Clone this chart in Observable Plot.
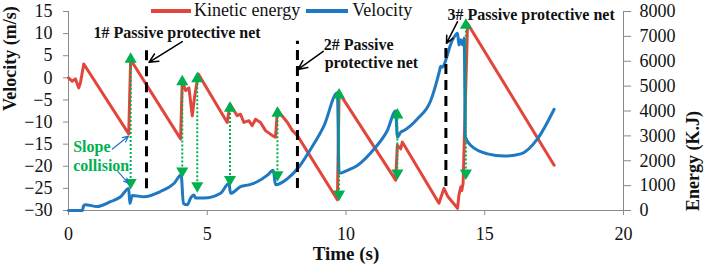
<!DOCTYPE html>
<html>
<head>
<meta charset="utf-8">
<script src="https://cdn.jsdelivr.net/npm/d3@7"></script>
<script src="https://cdn.jsdelivr.net/npm/@observablehq/plot@0.6"></script>
<style>
  body { margin: 0; background: #fff; }
  #wrap { position: relative; width: 706px; height: 269px; }
  #legend { position: absolute; left: 151px; top: 0; height: 21px; display: flex; align-items: center;
            font-family: "Liberation Serif", "Times New Roman", serif; font-size: 18px; color: #111; }
  #legend svg { display: block; }
</style>
</head>
<body>
<div id="wrap">
  <div id="chart"></div>
  <div id="legend"></div>
</div>
<script>
// ---- Data ----
// Kinetic energy (kJ) vs time (s)
const energyT  = [0, 0.13, 0.25, 0.37, 0.43, 0.55, 2.17, 2.24, 4.04, 4.10, 4.22, 4.34, 4.46, 4.54, 4.68,
                  5.72, 5.82, 6.08, 6.20, 6.32, 6.50, 6.62, 6.74, 6.92, 7.10, 7.35, 7.46, 7.53, 7.65, 7.89,
                  8.07, 8.25, 9.69, 9.75, 11.79, 11.85, 11.97, 12.03, 13.35, 13.53, 13.67, 14.02, 14.07,
                  14.14, 14.17, 14.22, 14.38, 17.50];
const energyKJ = [5330, 5200, 5290, 4930, 5130, 5890, 3080, 6060, 2880, 5240, 4820, 4930, 3810, 4540, 5490,
                  3540, 4270, 3810, 3870, 3540, 3610, 3410, 3670, 3540, 3210, 3010, 2950, 4070, 3870, 3540,
                  3210, 3010, 430, 4740, 1220, 2620, 2480, 2750, 290, 890, 560, 90, 630,
                  950, 800, 1090, 7520, 1820];
// Velocity (m/s) vs time (s)
const velocityT  = [0, 0.49, 0.55, 0.61, 1.03, 1.51, 1.88, 2.17, 2.21, 2.30, 2.72, 3.32, 3.80, 4.06, 4.14,
                    4.28, 4.40, 4.52, 4.58, 4.88, 5.48, 5.78, 5.84, 6.20, 6.50, 6.80, 7.17, 7.38, 7.46, 7.89,
                    8.31, 8.73, 9.21, 9.69, 9.75, 10.05, 10.41, 11.01, 11.49, 11.79, 11.85, 11.97, 12.09,
                    12.57, 13.05, 13.37, 13.41, 13.45, 13.84, 14.02, 14.07, 14.13, 14.21, 14.26, 14.30,
                    14.50, 15.10, 15.70, 16.30, 16.90, 17.50];
const velocityMS = [-30, -30, -28.9, -28.7, -29.1, -28.0, -26.9, -25.0, -28.4, -26.6, -26.9, -25.7, -23.9, -22.0, -28.4,
                    -28.7, -27.2, -26.5, -27.2, -27.2, -26.1, -23.9, -26.1, -24.6, -24.2, -23.5, -22.0, -20.9, -24.2, -22.8,
                    -20.1, -16.1, -10.8, -3.4, -21.6, -20.9, -19.8, -16.1, -11.9, -7.5, -13.4, -12.3, -11.9,
                    -9.3, -5.2, 1.6, 2.6, 2.4, 8.6, 10.1, 7.4, 8.6, 7.4, 9.0, -13.4,
                    -15.3, -17.2, -17.7, -17.2, -13.8, -7.1];
// Green collision arrows: time, top end, bottom end (velocity-axis units)
const collisionT      = [2.24, 4.10, 4.64, 5.82, 7.53, 9.75, 11.85, 14.32];
const collisionTop    = [5.1, 0.0, 0.7, -6.0, -7.1, -3.0, -7.5, 12.8];
const collisionBottom = [-24.6, -22.0, -25.3, -23.9, -22.8, -27.2, -22.4, -22.4];
// Passive protective nets (dashed lines)
const netT      = [2.81, 8.25, 13.60];
const netTop    = [7.2, 8.3, 7.8];
const netBottom = [-25.1, -25.0, -24.6];
// Tick values
const timeTicks     = [0, 5, 10, 15, 20];
const velocityTicks = [-30, -25, -20, -15, -10, -5, 0, 5, 10, 15];
const energyTicks   = [0, 1000, 2000, 3000, 4000, 5000, 6000, 7000, 8000];
// Annotation texts (anchored in data units)
const netLabels  = ["1# Passive protective net", "2# Passive", "protective net", "3# Passive protective net"];
const netLabelT  = [0.90, 9.20, 9.23, 13.66];
const netLabelV  = [10.1, 7.5, 3.4, 14.2];
const netArrowFrom = [[4.10, 8.2], [9.18, 6.0], [14.02, 12.7]];
const netArrowTo   = [[2.90, 3.5], [8.27, 1.9], [13.62, 7.8]];
const slopeLabels = ["Slope", "collision"];
const slopeLabelT = [0.17, 0.17];
const slopeLabelV = [-15.7, -19.8];
const slopeArrowFrom = [[1.58, -16.1], [1.78, -21.2]];
const slopeArrowTo   = [[2.16, -13.2], [2.16, -23.8]];

// ---- Helpers ----
const E_MAX = 8000, V_MIN = -30, V_MAX = 15;
const toV = e => V_MIN + e * (V_MAX - V_MIN) / E_MAX;
const toE = v => (v - V_MIN) * E_MAX / (V_MAX - V_MIN);

const RED = "#E2453C", BLUE = "#1F78C1", GREEN = "#00B050", GRAY = "#8A8A8A";
const SERIF = '"Liberation Serif", "Times New Roman", serif';

const energy = energyT.map((t, i) => ({t, v: toV(energyKJ[i])}));
const velocity = velocityT.map((t, i) => ({t, v: velocityMS[i]}));
const collisions = collisionT.map((t, i) => ({t, top: collisionTop[i], bottom: collisionBottom[i]}));
const nets = netT.map((t, i) => ({t, top: netTop[i], bottom: netBottom[i]}));
const netText = netLabels.map((s, i) => ({s, t: netLabelT[i], v: netLabelV[i]}));
const netArrows = netArrowFrom.map((f, i) => ({x1: f[0], y1: f[1], x2: netArrowTo[i][0], y2: netArrowTo[i][1]}));
const slopeText = slopeLabels.map((s, i) => ({s, t: slopeLabelT[i], v: slopeLabelV[i]}));
const slopeArrows = slopeArrowFrom.map((f, i) => ({x1: f[0], y1: f[1], x2: slopeArrowTo[i][0], y2: slopeArrowTo[i][1]}));

const chart = Plot.plot({
  width: 706,
  height: 269,
  marginLeft: 68,
  marginRight: 83,
  marginTop: 11,
  marginBottom: 59,
  style: {fontFamily: SERIF, fontSize: "18px", background: "white", overflow: "visible"},
  x: {domain: [0, 20]},
  y: {domain: [V_MIN, V_MAX]},
  marks: [
    // axis lines
    Plot.ruleY([V_MIN], {stroke: GRAY, strokeWidth: 1}),
    Plot.ruleX([0], {stroke: GRAY, strokeWidth: 1}),
    Plot.ruleX([20], {stroke: GRAY, strokeWidth: 1}),
    Plot.axisX({ticks: timeTicks, tickSize: 5, tickPadding: 12, stroke: GRAY, fill: "#111", label: null}),
    Plot.axisY({ticks: velocityTicks, tickSize: 5, tickPadding: 11, stroke: GRAY, fill: "#111", label: null}),
    Plot.axisY({anchor: "right", ticks: energyTicks.map(toV), tickFormat: v => String(Math.round(toE(v))),
                tickSize: 7, tickPadding: 9, stroke: GRAY, fill: "#111", label: null}),
    // axis titles
    Plot.text(["Velocity (m/s)"], {frameAnchor: "left", rotate: -90, dx: -58, fontWeight: "bold", fontSize: 18, fill: "#111"}),
    Plot.text(["Energy (K.J)"], {frameAnchor: "right", rotate: -90, dx: 70, fontWeight: "bold", fontSize: 18, fill: "#111"}),
    Plot.text(["Time (s)"], {frameAnchor: "bottom", dy: 49, fontWeight: "bold", fontSize: 19, fill: "#111"}),
    // series
    Plot.line(energy, {x: "t", y: "v", stroke: RED, strokeWidth: 3}),
    Plot.line(velocity, {x: "t", y: "v", stroke: BLUE, strokeWidth: 3, curve: "monotone-x"}),
    // passive net dashed lines
    Plot.ruleX(nets, {x: "t", y1: "bottom", y2: "top", stroke: "#000", strokeWidth: 3, strokeDasharray: "10,6"}),
    // collision arrows
    Plot.ruleX(collisions, {x: "t", y1: "bottom", y2: "top", stroke: GREEN, strokeWidth: 2, strokeDasharray: "2,2"}),
    Plot.dot(collisions, {x: "t", y: "top", symbol: "triangle", r: 4.5, fill: GREEN, dy: 4}),
    Plot.dot(collisions, {x: "t", y: "bottom", symbol: "triangle", r: 4.5, fill: GREEN, rotate: 180, dy: -4}),
    // annotations
    Plot.arrow(netArrows, {x1: "x1", y1: "y1", x2: "x2", y2: "y2", stroke: "#000", strokeWidth: 1.5, headLength: 10, headAngle: 50}),
    Plot.text(netText, {x: "t", y: "v", text: "s", textAnchor: "start", fontWeight: "bold", fontSize: 16, fill: "#111"}),
    Plot.arrow(slopeArrows, {x1: "x1", y1: "y1", x2: "x2", y2: "y2", stroke: BLUE, strokeWidth: 1.2, headLength: 8, headAngle: 50}),
    Plot.text(slopeText, {x: "t", y: "v", text: "s", textAnchor: "start", fontWeight: "bold", fontSize: 16, fill: GREEN})
  ]
});
document.getElementById("chart").appendChild(chart);

// Legend (overlaid at the top of the chart)
const legendItems = [{label: "Kinetic energy", color: RED, w: 40, gap: 3}, {label: "Velocity", color: BLUE, w: 42, gap: 4}];
const legend = document.getElementById("legend");
legendItems.forEach((d, i) => {
  const sw = document.createElementNS("http://www.w3.org/2000/svg", "svg");
  sw.setAttribute("width", d.w); sw.setAttribute("height", 6);
  sw.style.marginLeft = i ? "6px" : "0";
  sw.innerHTML = `<line x1="0" x2="${d.w}" y1="3" y2="3" stroke="${d.color}" stroke-width="4"/>`;
  legend.appendChild(sw);
  const span = document.createElement("span");
  span.textContent = d.label;
  span.style.marginLeft = d.gap + "px";
  legend.appendChild(span);
});
</script>
</body>
</html>
